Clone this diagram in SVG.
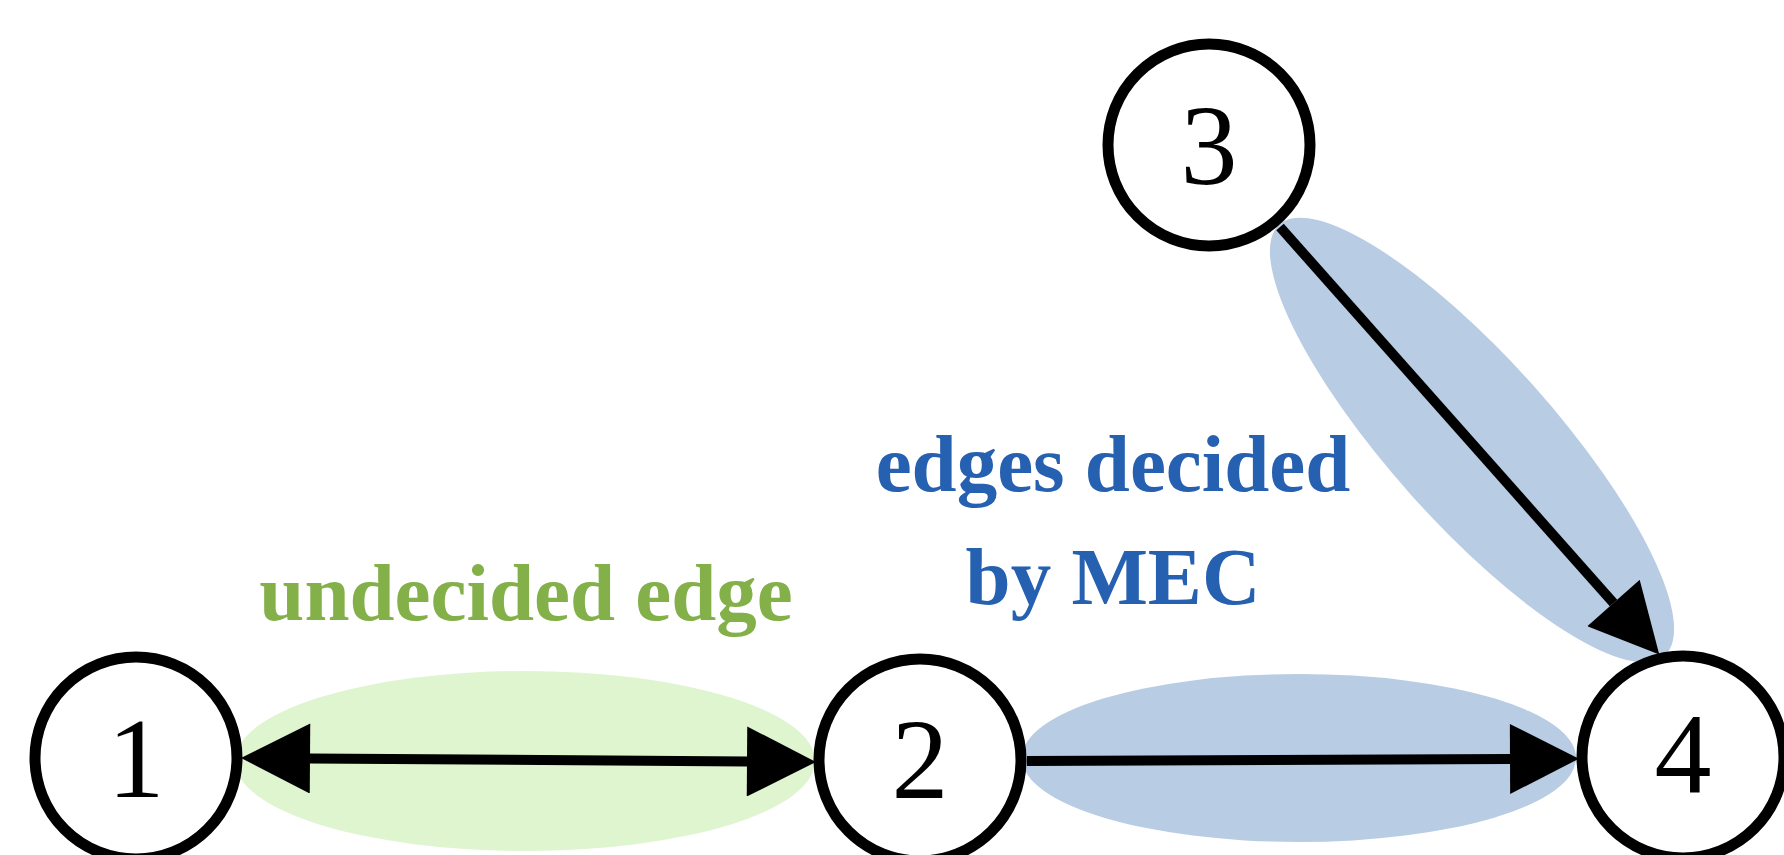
<svg xmlns="http://www.w3.org/2000/svg" width="1784" height="855" viewBox="0 0 1784 855">
<style>
.node circle{fill:#fff;stroke:#000;stroke-width:11}
.node text{font-family:"Liberation Serif","Times New Roman",serif;font-size:114px;fill:#000;text-anchor:middle}
.edge{stroke:#000;stroke-width:10;fill:none}
.lbl{font-family:"Liberation Serif","Times New Roman",serif;font-weight:bold;font-size:81px;text-anchor:middle}
.green{fill:#84B04A}
.blue{fill:#2660B0}
</style>
<defs>
<marker id="ah" markerUnits="userSpaceOnUse" markerWidth="70" markerHeight="70" refX="0" refY="34" orient="auto-start-reverse" viewBox="0 0 67 68">
<path d="M0,0 L67,34 L0,68 Z" fill="#000"/>
</marker>
</defs>
<rect width="1784" height="855" fill="#fff"/>
<g id="highlights">
<ellipse cx="525" cy="761" rx="290" ry="90" fill="#DFF5CF"/>
<ellipse cx="1299" cy="758" rx="277" ry="84" fill="#B8CCE4"/>
<ellipse cx="0" cy="0" rx="289" ry="82" fill="#B8CCE4" transform="translate(1472 440) rotate(48.2)"/>
</g>
<g id="connectors">
<line id="e12" class="edge" x1="310" y1="758.5" x2="747" y2="761.5" marker-start="url(#ah)" marker-end="url(#ah)"/>
<line id="e24" class="edge" x1="1027" y1="761" x2="1510" y2="759" marker-end="url(#ah)"/>
<line id="e34" class="edge" x1="1280" y1="227" x2="1613.5" y2="603" marker-end="url(#ah)"/>
</g>
<g id="node1" class="node"><circle cx="136" cy="758" r="101"/><text x="136" y="797">1</text></g>
<g id="node2" class="node"><circle cx="920" cy="760" r="101"/><text x="920" y="798">2</text></g>
<g id="node3" class="node"><circle cx="1209" cy="145" r="101"/><text x="1209" y="184">3</text></g>
<g id="node4" class="node"><circle cx="1683" cy="757" r="101"/><text x="1683" y="793">4</text></g>
<g id="labels">
<text class="lbl green" x="526" y="620">undecided edge</text>
<text class="lbl blue" x="1113" y="491">edges decided</text>
<text class="lbl blue" x="1113" y="604">by MEC</text>
</g>
</svg>
